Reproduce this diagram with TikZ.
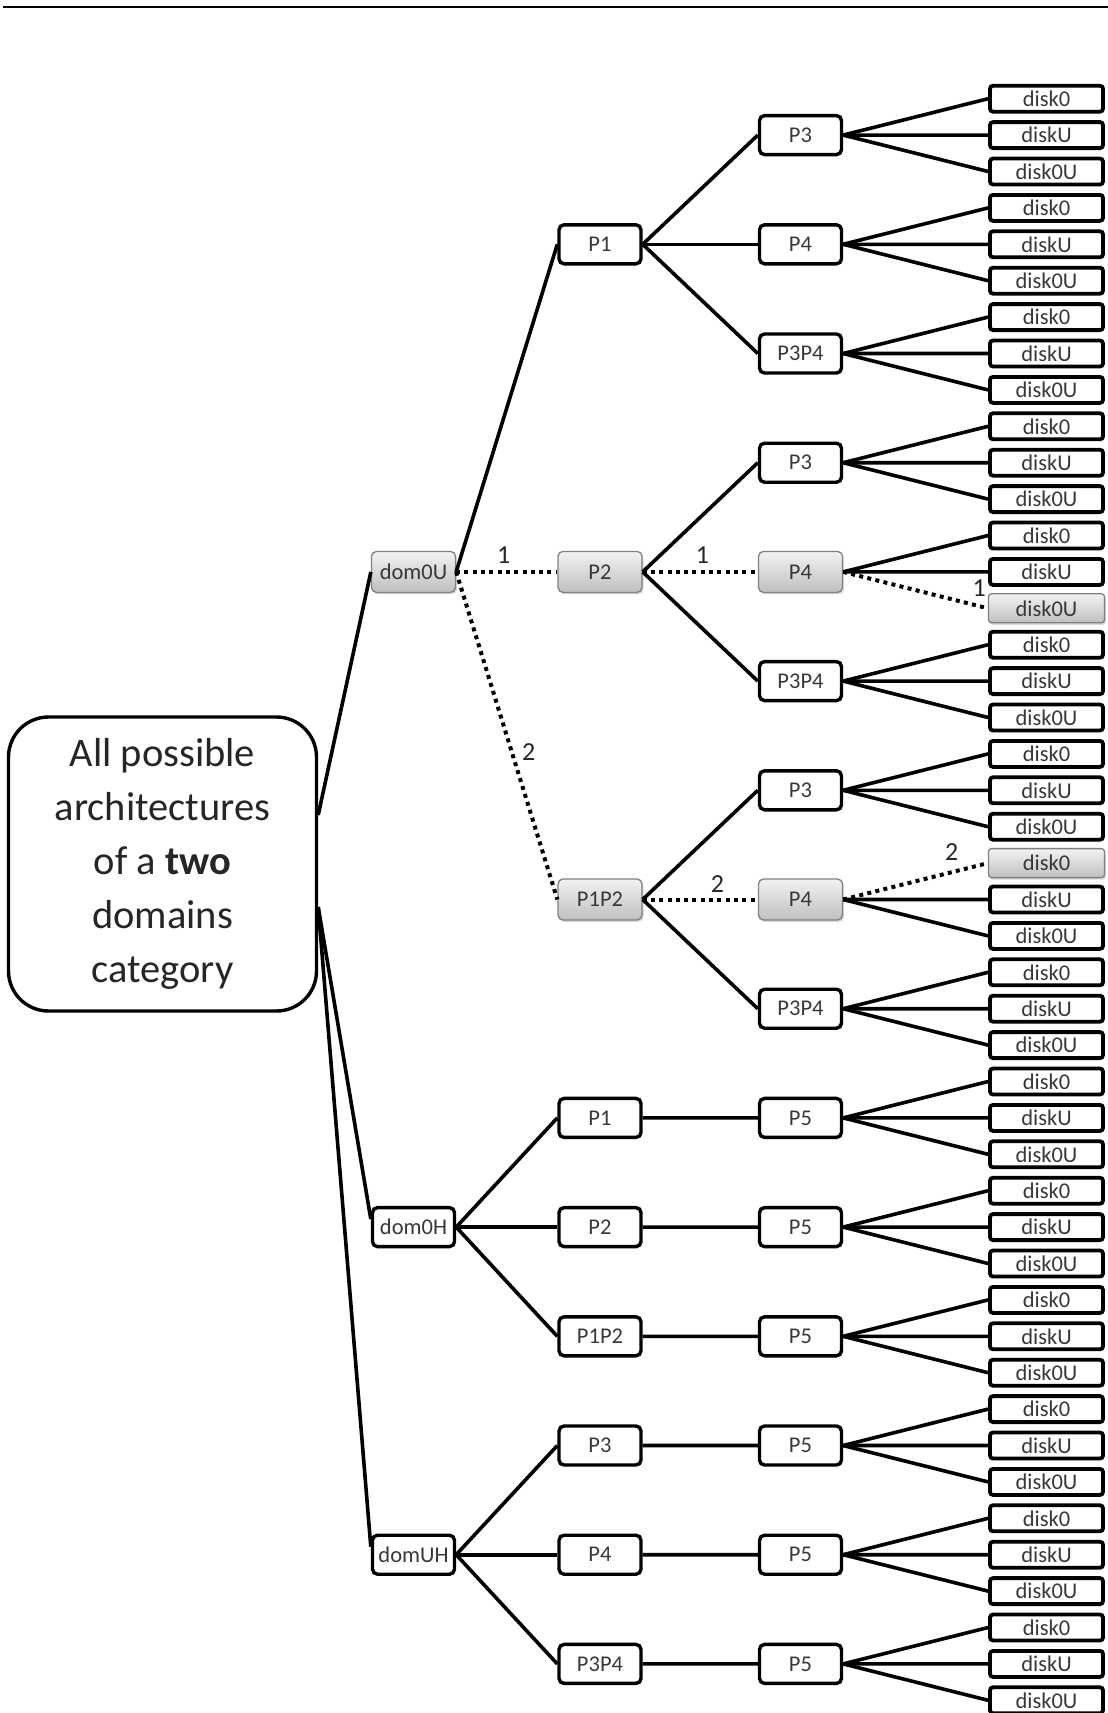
\documentclass[tikz,border=0pt]{standalone}
\usepackage{fontspec}
\setmainfont{Carlito}
\usetikzlibrary{shadows}
\begin{document}
\begin{tikzpicture}[x=1pt,y=-1pt,
  edge/.style={line width=3.6pt},
  hop/.style={line width=4pt, dash pattern=on 4pt off 4.3pt},
  nfont/.style={font=\fontsize{22.5}{26}\selectfont, text=black!78},
  box/.style={draw, rounded corners=5pt, line width=3.4pt, minimum width=82pt,
    minimum height=39pt, inner sep=0pt, nfont},
  greyfill/.style={draw=black!50, line width=1.3pt, top color=black!5,
    bottom color=black!25,
    drop shadow={opacity=0.3, shadow xshift=1.5pt, shadow yshift=-2pt}},
  graybox/.style={box, greyfill, minimum width=84pt, minimum height=41pt},
  disk/.style={draw, rounded corners=3pt, line width=3.8pt, minimum width=113pt,
    minimum height=26pt, inner sep=0pt, nfont},
  graydisk/.style={disk, greyfill, minimum width=116pt, minimum height=29pt},
  lbl/.style={inner sep=0pt, text=black!85, font=\fontsize{26}{30}\selectfont},
  rootbox/.style={draw, rounded corners=40pt, line width=3.4pt, minimum width=308pt,
    minimum height=294pt, align=center, text=black!85,
    font=\fontsize{40.5}{54}\selectfont}
]
\useasboundingbox (0,0) rectangle (1108,1713);

% rule at the top of the page
\draw[line width=2pt] (3,7) -- (1108,7);

% root
\node[rootbox] (root) at (162.5,864)
  {All possible\\architectures\\of a \textbf{two}\\domains\\category};

% domain level
\node[graybox] (u)  at (413.5,571.9)  {dom0U};
\node[box]     (h)  at (413.5,1227.1) {dom0H};
\node[box]     (uh) at (413.5,1554.7) {domUH};

% second level
\node[box]     (a1) at (600,244.3)  {P1};
\node[graybox] (a2) at (600,571.9)  {P2};
\node[graybox] (a3) at (600,899.5)  {P1P2};
\node[box]     (b1) at (600,1117.9) {P1};
\node[box]     (b2) at (600,1227.1) {P2};
\node[box]     (b3) at (600,1336.3) {P1P2};
\node[box]     (c1) at (600,1445.5) {P3};
\node[box]     (c2) at (600,1554.7) {P4};
\node[box]     (c3) at (600,1663.9) {P3P4};

% third level
\foreach \g/\t in {0/P3,1/P4,2/P3P4,3/P3,5/P3P4,6/P3,8/P3P4,
                   9/P5,10/P5,11/P5,12/P5,13/P5,14/P5}{
  \pgfmathsetmacro\yy{135.1+109.2*\g}
  \node[box] (m\g) at (800.5,\yy) {\t};
}
\node[graybox] (m4) at (800.5,571.9) {P4};
\node[graybox] (m7) at (800.5,899.5) {P4};

% disks
\foreach \g in {0,...,14}{
  \foreach \k/\t in {0/disk0,1/diskU,2/disk0U}{
    \pgfmathtruncatemacro\i{3*\g+\k}
    \pgfmathsetmacro\yy{98.7+36.4*\i}
    \def\gry{0}
    \ifnum\i=14 \def\gry{1}\fi
    \ifnum\i=21 \def\gry{1}\fi
    \ifnum\gry=1
      \node[graydisk] (d\i) at (1046.5,\yy) {\t};
    \else
      \node[disk] (d\i) at (1046.5,\yy) {\t};
    \fi
  }
}

% connectors from the root
\draw[edge] ([yshift=49pt]root.east) -- (u.west);
\draw[edge] ([yshift=-43pt]root.east) -- ([yshift=8pt]h.west);
\draw[edge] ([yshift=-43pt]root.east) -- ([yshift=8pt]uh.west);

% dom0U branch
\draw[edge] (u.east) -- (a1.west);
\draw[hop] (u.east) -- node[lbl, pos=0.47, yshift=17pt] {1} (a2.west);
\draw[hop] (u.east) -- node[lbl, pos=0.55, xshift=17pt] {2} (a3.west);

\foreach \m in {0,1,2} \draw[edge] (a1.east) -- (m\m.west);
\draw[edge] (a2.east) -- (m3.west);
\draw[hop]  (a2.east) -- node[lbl, pos=0.52, yshift=17pt] {1} (m4.west);
\draw[edge] (a2.east) -- (m5.west);
\draw[edge] (a3.east) -- (m6.west);
\draw[hop]  (a3.east) -- node[lbl, pos=0.65, yshift=15pt] {2} (m7.west);
\draw[edge] (a3.east) -- (m8.west);

% dom0H and domUH branches
\foreach \j in {1,2,3}{
  \pgfmathtruncatemacro\p{8+\j}
  \pgfmathtruncatemacro\q{11+\j}
  \draw[edge] (h.east) -- (b\j.west);
  \draw[edge] (uh.east) -- (c\j.west);
  \draw[edge] (b\j.east) -- (m\p.west);
  \draw[edge] (c\j.east) -- (m\q.west);
}

% disks attached to each third-level box
\foreach \g in {0,...,14}{
  \foreach \k in {0,1,2}{
    \pgfmathtruncatemacro\i{3*\g+\k}
    \def\skp{0}
    \ifnum\i=14 \def\skp{1}\fi
    \ifnum\i=21 \def\skp{1}\fi
    \ifnum\skp=0
      \draw[edge] (m\g.east) -- (d\i.west);
    \fi
  }
}
\draw[hop] (m4.east) -- node[lbl, pos=0.94, yshift=18pt] {1} (d14.west);
\draw[hop] (m7.east) -- node[lbl, pos=0.75, yshift=20pt] {2} (d21.west);
\end{tikzpicture}
\end{document}
